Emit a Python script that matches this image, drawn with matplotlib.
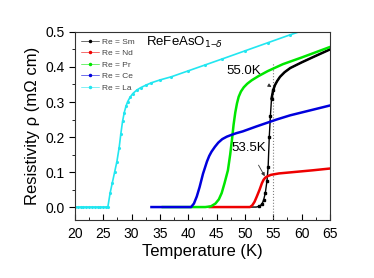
import numpy as np
import matplotlib
matplotlib.use('Agg')
import matplotlib.pyplot as plt
from matplotlib.lines import Line2D

plt.rcParams['font.family'] = ['Liberation Sans', 'DejaVu Sans']

# Re = La
t_la = [20, 20.5, 21, 21.5, 22, 22.5, 23, 23.5, 24, 24.5, 25, 25.4, 25.8, 26.2, 26.6, 27.0,
        27.4, 27.8, 28.1, 28.4, 28.7, 29.0, 29.3, 29.7, 30.2, 30.9, 31.6, 32.5, 33.5, 35, 37,
        40, 43, 46, 50, 54, 58, 61]
r_la = [0, 0, 0, 0, 0, 0, 0, 0, 0, 0, 0, 0, 0, 0.04, 0.07, 0.10,
        0.13, 0.17, 0.21, 0.245, 0.27, 0.288, 0.301, 0.313, 0.324, 0.334, 0.341, 0.348, 0.355,
        0.363, 0.372, 0.389, 0.406, 0.423, 0.446, 0.469, 0.492, 0.508]
# Re = Ce
t_ce = [33.5, 35, 37, 39, 40.5, 41.0, 41.5, 42.0, 42.6, 43.3, 43.7, 44.1, 44.7, 45.3, 46.0,
        46.8, 47.6, 48.5, 49.6, 52, 55.6, 58, 61, 65]
r_ce = [0, 0, 0, 0, 0, 0.01, 0.03, 0.057, 0.095, 0.13, 0.146, 0.158, 0.172, 0.184, 0.194,
        0.201, 0.206, 0.211, 0.216, 0.23, 0.25, 0.262, 0.274, 0.29]
# Re = Pr
t_pr = [35.5, 38, 41, 43, 44, 44.8, 45.4, 45.9, 46.4, 47.0, 47.4, 47.7, 48.0, 48.3, 48.6,
        48.9, 49.3, 49.8, 50.4, 51.2, 52.4, 54, 56.7, 60, 62.5, 65]
r_pr = [0, 0, 0, 0, 0.002, 0.01, 0.022, 0.04, 0.068, 0.105, 0.15, 0.19, 0.235, 0.27, 0.296,
        0.315, 0.33, 0.342, 0.352, 0.362, 0.374, 0.388, 0.408, 0.427, 0.442, 0.457]
# Re = Nd
t_nd = [43.8, 46, 48, 50, 50.9, 51.3, 51.7, 52.1, 52.6, 53.0, 53.3, 53.6, 54.0, 54.6, 56, 58,
        60, 62, 65]
r_nd = [0, 0, 0, 0, 0, 0.005, 0.015, 0.03, 0.05, 0.068, 0.078, 0.084, 0.088, 0.092, 0.096,
        0.099, 0.102, 0.105, 0.11]
# Re = Sm
t_sm = [50, 51, 52, 52.5, 53.0, 53.3, 53.6, 53.9, 54.1, 54.3, 54.5, 54.7, 55.0, 55.3, 55.7,
        56.2, 57, 58, 60, 62, 65]
r_sm = [0, 0, 0, 0.002, 0.008, 0.02, 0.04, 0.075, 0.114, 0.2, 0.26, 0.31, 0.334, 0.348, 0.36,
        0.372, 0.385, 0.397, 0.413, 0.428, 0.45]

labels = ['Re = Sm', 'Re = Nd', 'Re = Pr', 'Re = Ce', 'Re = La']
colors = ['black', '#ee0000', '#00e600', '#0000dd', '#22e6f0']

fig = plt.figure(figsize=(3.74, 2.78), dpi=100)
ax = fig.add_axes([0.2005, 0.2086, 0.6815, 0.6764])

ax.plot([55, 55], [-0.04, 0.41], ls=':', color='gray', lw=0.8)

ax.plot(t_sm, r_sm, '-', color=colors[0], lw=1.0, marker='s', ms=1.5,
        markevery=list(range(3, 13)))
ax.plot(t_sm[11:], r_sm[11:], '-', color=colors[0], lw=1.8)
ax.plot(t_nd, r_nd, '-', color=colors[1], lw=1.8)
ax.plot(t_pr, r_pr, '-', color=colors[2], lw=1.8)
ax.plot(t_ce, r_ce, '-', color=colors[3], lw=1.8)
ax.plot(t_la, r_la, '-', color=colors[4], lw=1.2, marker='.', ms=2.5)

handles = [Line2D([], [], color=c, lw=0.4, marker='.', ms=3) for c in colors]
leg = ax.legend(handles, labels, loc='upper left', frameon=False, fontsize=6,
                handlelength=2.2, labelspacing=0.45, borderaxespad=0.3,
                handletextpad=0.4, numpoints=1)
for tx in leg.get_texts():
    tx.set_color('#444444')

ax.text(32.5, 0.469, r'ReFeAsO$_{1\mathregular{-}\delta}$', fontsize=9.5, va='center')
ax.annotate('55.0K', xy=(54.7, 0.343), xytext=(49.8, 0.389), fontsize=9.5,
            ha='center', va='center',
            arrowprops=dict(arrowstyle='-|>', color='#333333', lw=0.6, mutation_scale=5,
                            shrinkA=8, shrinkB=0))
ax.annotate('53.5K', xy=(53.5, 0.088), xytext=(50.7, 0.169), fontsize=9.5,
            ha='center', va='center',
            arrowprops=dict(arrowstyle='-|>', color='#333333', lw=0.6, mutation_scale=5,
                            shrinkA=7, shrinkB=0))

ax.set_xlim(20, 65)
ax.set_ylim(-0.037, 0.5)
ax.set_xticks(np.arange(20, 66, 5))
ax.set_xticks(np.arange(22.5, 65, 5), minor=True)
ax.set_yticks([0.0, 0.1, 0.2, 0.3, 0.4, 0.5])
ax.set_yticks(np.arange(0.05, 0.5, 0.1), minor=True)
ax.set_yticklabels(['0.0', '0.1', '0.2', '0.3', '0.4', '0.5'])
ax.tick_params(axis='x', which='both', direction='in', labelsize=10, pad=5)
ax.tick_params(axis='x', which='major', length=4)
ax.tick_params(axis='x', which='minor', length=2)
ax.tick_params(axis='y', which='both', direction='out', labelsize=10)
ax.tick_params(axis='y', which='major', length=4)
ax.tick_params(axis='y', which='minor', length=2)
for s in ax.spines.values():
    s.set_linewidth(0.8)
    s.set_color('#333333')

ax.set_xlabel('Temperature (K)', fontsize=12, labelpad=2)
ax.set_ylabel('Resistivity ρ (mΩ cm)', fontsize=12, labelpad=4)

fig.savefig('out.png', dpi=100)
